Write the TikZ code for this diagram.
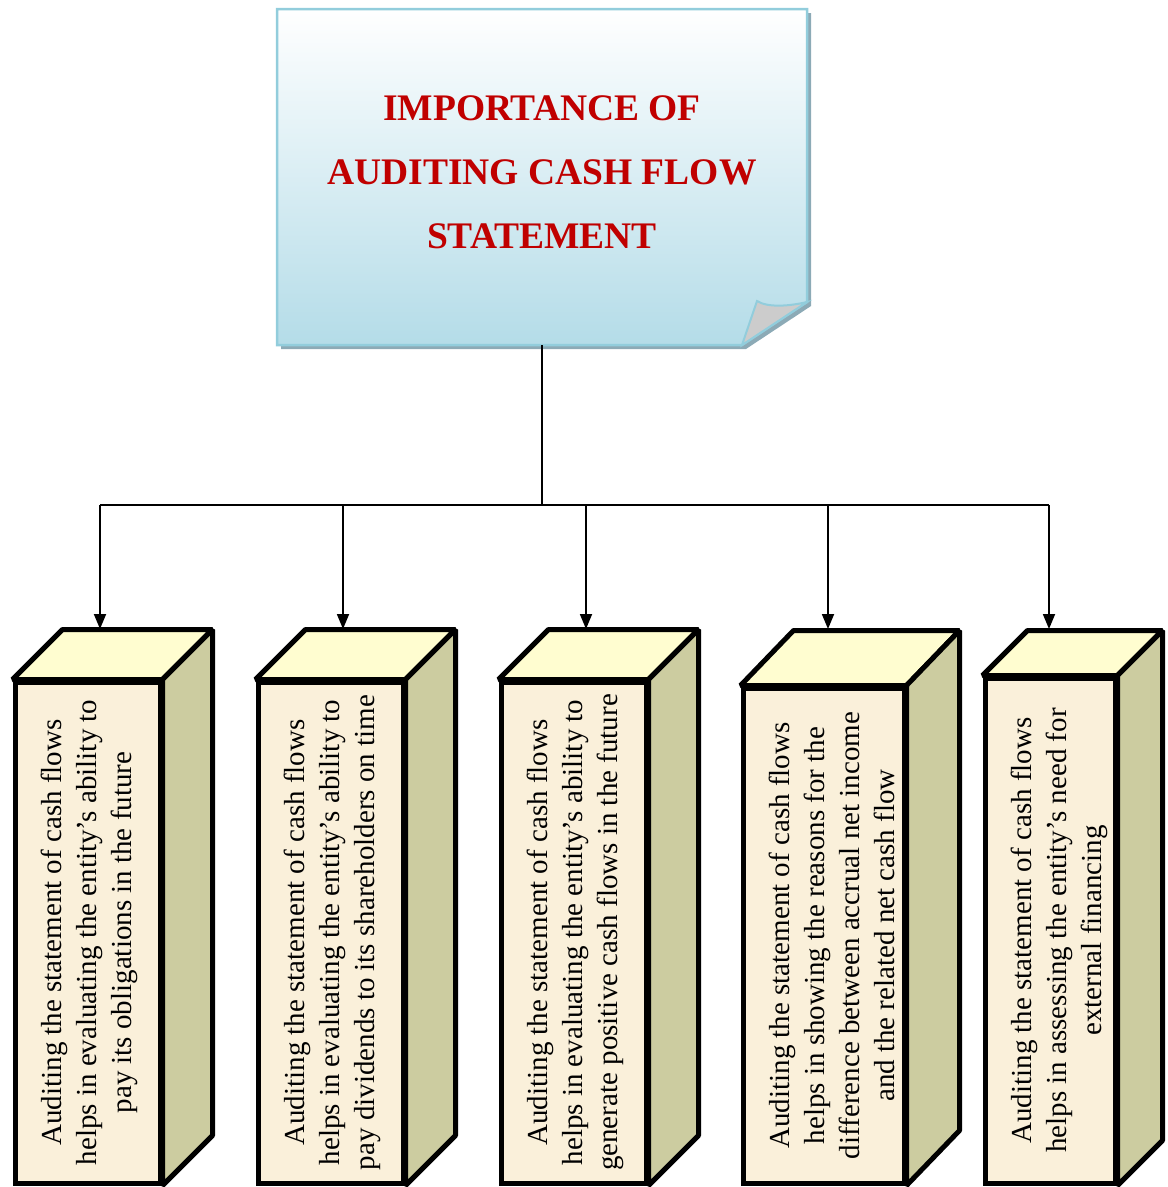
\documentclass[tikz,border=0pt]{standalone}
\usepackage{fontspec}
\setmainfont{Liberation Serif}
\usetikzlibrary{arrows.meta}
\definecolor{titlered}{RGB}{192,0,0}
\definecolor{noteborder}{RGB}{146,205,220}
\definecolor{notebottom}{RGB}{180,220,232}
\definecolor{noteshadow}{RGB}{140,170,182}
\definecolor{foldgray}{RGB}{204,204,204}
\definecolor{facecream}{RGB}{250,240,218}
\definecolor{topyellow}{RGB}{255,253,208}
\definecolor{sidekhaki}{RGB}{204,204,160}

\begin{document}
\begin{tikzpicture}[
    x=1pt, y=-1pt,
    front/.style={draw, line width=5pt, fill=facecream, inner sep=0pt, line join=miter},
    topface/.style={draw, line width=5pt, fill=topyellow, line join=bevel},
    sideface/.style={draw, line width=5pt, fill=sidekhaki, line join=bevel},
    lbl/.style={rotate=90, align=center, inner sep=0pt, font=\fontsize{29}{35}\selectfont},
    ttl/.style={align=center, text=titlered, font=\fontsize{37.5}{64}\selectfont\bfseries},
    link/.style={line width=1.8pt},
    arr/.style={-{Triangle[length=15pt,width=12pt]}, line width=1.8pt},
  ]
    \useasboundingbox (0,0) rectangle (1168,1187);

    % --- Title note ---
    \node[minimum width=530pt, minimum height=336pt, inner sep=0pt] (note) at (542,177) {};
    \fill[noteshadow] (281,13) -- (811,13) -- (811,306) -- (746,349) -- (281,349) -- cycle;
    \draw[draw=noteborder, line width=2.5pt, top color=white, bottom color=notebottom]
      (277,9) -- (807,9) -- (807,302) -- (742,345) -- (277,345) -- cycle;
    \filldraw[fill=foldgray, draw=noteborder, line width=2pt]
      (742,345) -- (757,301) .. controls (768,308) and (790,306) .. (807,302) -- cycle;
    \node[ttl] (title) at (542,172) {IMPORTANCE OF\\AUDITING CASH FLOW\\STATEMENT};

    % --- Boxes (front faces) ---
    \node[front, minimum width=145pt, minimum height=501pt] (f1) at (87.5,932.5) {};
    \node[front, minimum width=145pt, minimum height=501pt] (f2) at (330.5,932.5) {};
    \node[front, minimum width=145pt, minimum height=501pt] (f3) at (573.5,932.5) {};
    \node[front, minimum width=161pt, minimum height=495pt] (f4) at (823.5,935.5) {};
    \node[front, minimum width=130pt, minimum height=505pt] (f5) at (1050,930.5) {};
    % tops and sides
    \draw[topface] (f1.north west) -- ++(50,-50) -- ([shift={(50,-50)}]f1.north east) -- (f1.north east) -- cycle;
    \draw[sideface] (f1.north east) -- ++(50,-50) -- ([shift={(50,-50)}]f1.south east) -- (f1.south east) -- cycle;
    \draw[topface] (f2.north west) -- ++(50,-50) -- ([shift={(50,-50)}]f2.north east) -- (f2.north east) -- cycle;
    \draw[sideface] (f2.north east) -- ++(50,-50) -- ([shift={(50,-50)}]f2.south east) -- (f2.south east) -- cycle;
    \draw[topface] (f3.north west) -- ++(50,-50) -- ([shift={(50,-50)}]f3.north east) -- (f3.north east) -- cycle;
    \draw[sideface] (f3.north east) -- ++(50,-50) -- ([shift={(50,-50)}]f3.south east) -- (f3.south east) -- cycle;
    \draw[topface] (f4.north west) -- ++(53,-55) -- ([shift={(53,-55)}]f4.north east) -- (f4.north east) -- cycle;
    \draw[sideface] (f4.north east) -- ++(53,-55) -- ([shift={(53,-55)}]f4.south east) -- (f4.south east) -- cycle;
    \draw[topface] (f5.north west) -- ++(45,-45) -- ([shift={(45,-45)}]f5.north east) -- (f5.north east) -- cycle;
    \draw[sideface] (f5.north east) -- ++(45,-45) -- ([shift={(45,-45)}]f5.south east) -- (f5.south east) -- cycle;

    % --- Labels ---
    \node[lbl] (l1) at ([xshift=2pt]f1.center) {Auditing the statement of cash flows\\helps in evaluating the entity's ability to\\pay its obligations in the future};
    \node[lbl] (l2) at ([xshift=2pt]f2.center) {Auditing the statement of cash flows\\helps in evaluating the entity's ability to\\pay dividends to its shareholders on time};
    \node[lbl] (l3) at ([xshift=2pt]f3.center) {Auditing the statement of cash flows\\helps in evaluating the entity's ability to\\generate positive cash flows in the future};
    \node[lbl] (l4) at ([xshift=8pt]f4.center) {Auditing the statement of cash flows\\helps in showing the reasons for the\\difference between accrual net income\\and the related net cash flow};
    \node[lbl] (l5) at ([xshift=9pt]f5.center) {Auditing the statement of cash flows\\helps in assessing the entity's need for\\external financing};

    % --- Connectors ---
    \coordinate (hub) at (542,505);
    \coordinate (t1) at (100,629);
    \coordinate (t2) at (343,629);
    \coordinate (t3) at (586,629);
    \coordinate (t4) at (828,629);
    \coordinate (t5) at (1049,629);
    \draw[link] (note.south) -- (hub);
    \draw[link] (hub -| t1) -- (hub -| t5);
    \draw[arr] (hub -| t1) -- (t1);
    \draw[arr] (hub -| t2) -- (t2);
    \draw[arr] (hub -| t3) -- (t3);
    \draw[arr] (hub -| t4) -- (t4);
    \draw[arr] (hub -| t5) -- (t5);
  \end{tikzpicture}
\end{document}
